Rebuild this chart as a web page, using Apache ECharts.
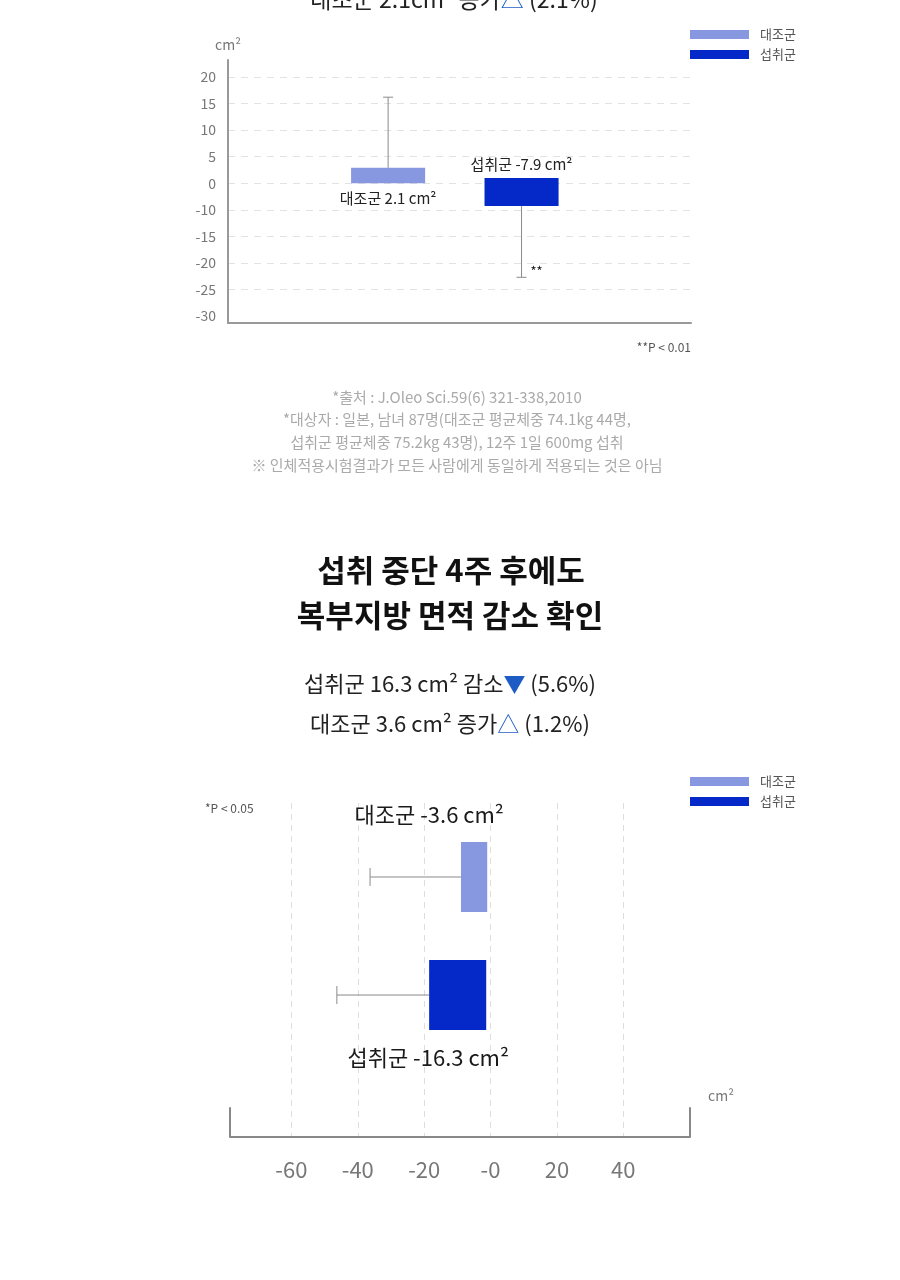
<!DOCTYPE html>
<html>
<head>
<meta charset="utf-8">
<script src="https://cdn.jsdelivr.net/npm/echarts@6.0.0/dist/echarts.min.js"></script>
<style>
  html, body { margin: 0; padding: 0; background: #fff; }
  #chart { width: 900px; height: 1280px; }
</style>
</head>
<body>
<div id="chart"></div>
<script>
const groups = ['대조군', '섭취군'];

// 위 차트 (세로 막대) - 값은 그림의 눈금 위치 기준
const topBarFrom = [0, 1.0];      // 막대 시작 (라벨 쪽)
const topBarTo = [2.9, -4.3];     // 막대 끝 (오차선 쪽)
const topErrEnd = [16.2, -17.7];  // 오차선 끝
const topBarLabels = ['대조군 2.1 cm²', '섭취군 -7.9 cm²'];
const topSigMarks = ['', '**'];
const topTickValues = [20, 15, 10, 5, 0, -5, -10, -15, -20, -25];
const topTickLabels = ['20', '15', '10', '5', '0', '-10', '-15', '-20', '-25', '-30'];

// 아래 차트 (가로 막대)
const bottomBarFrom = [-1.0, -1.3];
const bottomBarTo = [-8.9, -18.5];
const bottomErrEnd = [-36.3, -46.3];
const bottomBarLabels = ['대조군 -3.6 cm²', '섭취군 -16.3 cm²'];
const bottomTickValues = [-60, -40, -20, 0, 20, 40];
const bottomTickLabels = ['-60', '-40', '-20', '-0', '20', '40'];

const colors = ['#8798e0', '#0529c8'];
const FONT = '"Noto Sans CJK KR", "Noto Sans", sans-serif';
const BLUE = '#1d5cc4';

// 축 범위 (레이아웃)
const X1 = [-1.2, 2.27];
const Y1 = [-26.3, 23.2];
const X2 = [-78.5, 60.1];
const Y2 = [-0.627, 2.203];
const CAP2 = 1.95;

function txt(text, x, y, size, color, align, weight, rich) {
  return {
    type: 'text', x: x, y: y, silent: true,
    style: {
      text: text, fill: color,
      font: (weight || 'normal') + ' ' + size + 'px ' + FONT,
      align: align || 'center', textAlign: align || 'center',
      verticalAlign: 'middle', textVerticalAlign: 'middle',
      rich: rich
    }
  };
}

function renderTop(params, api) {
  const idx = api.value(0);
  const p0 = api.coord([idx, api.value(1)]);
  const p1 = api.coord([idx, api.value(2)]);
  const pe = api.coord([idx, api.value(3)]);
  const w = api.size([1, 0])[0] * 0.555;
  const x = p0[0];
  const up = api.value(2) > api.value(1);
  const children = [
    { type: 'rect',
      shape: { x: x - w / 2, y: Math.min(p0[1], p1[1]), width: w, height: Math.abs(p1[1] - p0[1]) },
      style: { fill: api.visual('color') } },
    { type: 'line', shape: { x1: x, y1: p1[1], x2: x, y2: pe[1] },
      style: { stroke: '#8a8a8a', lineWidth: 1 } },
    { type: 'line', shape: { x1: x - 5, y1: pe[1], x2: x + 5, y2: pe[1] },
      style: { stroke: '#8a8a8a', lineWidth: 1 } },
    { type: 'text', style: {
        text: topBarLabels[idx], x: x, y: p0[1] + (up ? 15 : -14),
        align: 'center', verticalAlign: 'middle', fill: '#222',
        font: '15px ' + FONT } }
  ];
  if (topSigMarks[idx]) {
    children.push({ type: 'text', style: {
      text: topSigMarks[idx], x: x + 9, y: pe[1] - 6,
      align: 'left', verticalAlign: 'middle', fill: '#222',
      font: '13px ' + FONT } });
  }
  return { type: 'group', children: children };
}

function renderBottom(params, api) {
  const idx = api.value(0);
  const pf = api.coord([api.value(1), idx]);
  const pt = api.coord([api.value(2), idx]);
  const pe = api.coord([api.value(3), idx]);
  const h = api.size([0, 1])[1] * 0.593;
  const y = pf[1];
  return { type: 'group', children: [
    { type: 'rect',
      shape: { x: pt[0], y: y - h / 2, width: pf[0] - pt[0], height: h },
      style: { fill: api.visual('color') } },
    { type: 'line', shape: { x1: pt[0], y1: y, x2: pe[0], y2: y },
      style: { stroke: '#8a8a8a', lineWidth: 1 } },
    { type: 'line', shape: { x1: pe[0], y1: y - 9, x2: pe[0], y2: y + 9 },
      style: { stroke: '#8a8a8a', lineWidth: 1 } },
    { type: 'text', style: {
        text: bottomBarLabels[idx], x: pf[0] - 58,
        y: idx === 0 ? y - h / 2 - 27 : y + h / 2 + 28,
        align: 'center', verticalAlign: 'middle', fill: '#1a1a1a',
        font: '22px ' + FONT } }
  ] };
}

const series = [];
groups.forEach(function (name, i) {
  series.push({
    name: name, type: 'custom', xAxisIndex: 0, yAxisIndex: 0,
    itemStyle: { color: colors[i] },
    encode: { x: 0, y: [1, 2, 3] },
    renderItem: renderTop,
    data: [[i, topBarFrom[i], topBarTo[i], topErrEnd[i]]]
  });
  series.push({
    name: name, type: 'custom', xAxisIndex: 1, yAxisIndex: 1,
    itemStyle: { color: colors[i] },
    encode: { x: [1, 2, 3], y: 0 },
    renderItem: renderBottom,
    data: [[i, bottomBarFrom[i], bottomBarTo[i], bottomErrEnd[i]]],
    markLine: i === 0 ? {
      silent: true, symbol: 'none', label: { show: false },
      lineStyle: { color: '#888', width: 2, type: 'solid' },
      data: [
        [{ coord: [X2[0], CAP2] }, { coord: [X2[0], Y2[1]] }],
        [{ coord: [X2[1], CAP2] }, { coord: [X2[1], Y2[1]] }]
      ]
    } : undefined
  });
});

const legendBase = {
  data: groups, orient: 'vertical', left: 690, padding: 0, itemWidth: 59, itemHeight: 9,
  itemGap: 7, icon: 'rect', selectedMode: false,
  textStyle: { fontSize: 13, color: '#555', lineHeight: 13, fontFamily: FONT, padding: [0, 0, 0, 6] }
};

const myChart = echarts.init(document.getElementById('chart'));
myChart.setOption({
  backgroundColor: '#fff',
  animation: false,
  textStyle: { fontFamily: FONT },
  legend: [
    Object.assign({}, legendBase, { top: 28 }),
    Object.assign({}, legendBase, { top: 775 })
  ],
  grid: [
    { left: 228, top: 60, width: 463, height: 263 },
    { left: 230, top: 803, width: 460, height: 334 }
  ],
  xAxis: [
    { type: 'value', gridIndex: 0, min: X1[0], max: X1[1],
      axisLine: { show: true, onZero: false, lineStyle: { color: '#999', width: 2 } },
      axisTick: { show: false }, axisLabel: { show: false }, splitLine: { show: false } },
    { type: 'value', gridIndex: 1, min: X2[0], max: X2[1],
      axisLine: { show: true, onZero: false, lineStyle: { color: '#888', width: 2 } },
      axisTick: { show: false, customValues: bottomTickValues },
      axisLabel: { customValues: bottomTickValues, margin: 22, fontSize: 22, color: '#777',
        fontFamily: FONT,
        formatter: function (v) { return bottomTickLabels[bottomTickValues.indexOf(v)]; } },
      splitLine: { show: true, lineStyle: { color: '#dedede', type: [6, 5], width: 1 } } }
  ],
  yAxis: [
    { type: 'value', gridIndex: 0, min: Y1[0], max: Y1[1],
      name: 'cm²', nameLocation: 'end', nameGap: 8,
      nameTextStyle: { fontSize: 14, color: '#777', fontFamily: FONT },
      axisLine: { show: true, onZero: false, lineStyle: { color: '#999', width: 2 } },
      axisTick: { show: false, customValues: topTickValues.slice(0, -1) },
      axisLabel: { customValues: topTickValues, margin: 12, fontSize: 14, color: '#777',
        fontFamily: FONT,
        formatter: function (v) { return topTickLabels[topTickValues.indexOf(v)]; } },
      splitLine: { show: true, lineStyle: { color: '#e2e2e2', type: [7, 6], width: 1 } } },
    { type: 'value', gridIndex: 1, min: Y2[0], max: Y2[1], inverse: true, show: false,
      axisLine: { onZero: false }, splitLine: { show: false } }
  ],
  graphic: [
    txt('대조군 2.1cm² 증가{t|△} (2.1%)', 454, -1, 23, '#222', 'center', 'normal',
      { t: { fill: BLUE, color: BLUE, font: '23px ' + FONT } }),
    txt('**P < 0.01', 691, 347, 12, '#555', 'right'),
    txt('*출처 : J.Oleo Sci.59(6) 321-338,2010', 457, 397, 15, '#aaa'),
    txt('*대상자 : 일본, 남녀 87명(대조군 평균체중 74.1kg 44명,', 457, 419, 15, '#aaa'),
    txt('섭취군 평균체중 75.2kg 43명), 12주 1일 600mg 섭취', 457, 442, 15, '#aaa'),
    txt('※ 인체적용시험결과가 모든 사람에게 동일하게 적용되는 것은 아님', 457, 465, 15, '#aaa'),
    txt('섭취 중단 4주 후에도', 451, 570, 31, '#111', 'center', 'bold'),
    txt('복부지방 면적 감소 확인', 450, 615, 31, '#111', 'center', 'bold'),
    txt('섭취군 16.3 cm² 감소{t|▼} (5.6%)', 450, 684, 22, '#222', 'center', 'normal',
      { t: { fill: BLUE, color: BLUE, font: '22px ' + FONT } }),
    txt('대조군 3.6 cm² 증가{t|△} (1.2%)', 450, 724, 22, '#222', 'center', 'normal',
      { t: { fill: BLUE, color: BLUE, font: '22px ' + FONT } }),
    txt('*P < 0.05', 205, 808, 12, '#555', 'left'),
    txt('cm²', 721, 1096, 14, '#777')
  ],
  series: series
});

window.onresize = function () {
  myChart.resize();
};
</script>
</body>
</html>
